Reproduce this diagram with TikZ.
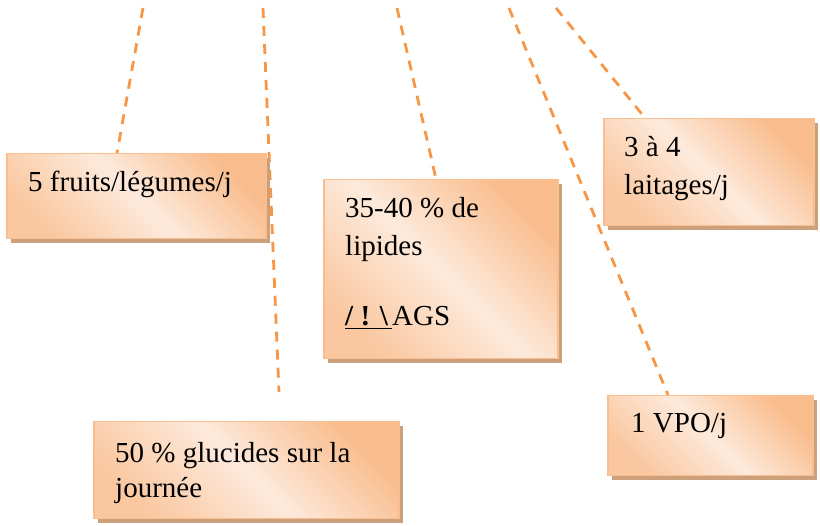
\documentclass[tikz,border=0pt]{standalone}
\usepackage{fontspec}
\setmainfont{Liberation Serif}
\usetikzlibrary{shadows,backgrounds}

\definecolor{boxorange}{HTML}{F9BC8C}
\definecolor{boxlight}{HTML}{FDEADC}
\definecolor{boxedge}{HTML}{F9BE8F}
\definecolor{boxshadow}{HTML}{CDA07C}
\definecolor{linkorange}{HTML}{F79646}

\tikzset{
  notebox/.style={rectangle, draw=boxedge, line width=1.5pt, inner sep=0pt,
    anchor=north west,
    top color=boxorange, bottom color=boxorange!75!boxlight,
    middle color=boxlight, shading angle=-45,
    drop shadow={shadow xshift=4pt, shadow yshift=-4pt,
      fill=boxshadow, opacity=1}},
  notetext/.style={anchor=base west, inner sep=0pt,
    font=\fontsize{29}{35}\selectfont},
  link/.style={linkorange, line width=2.8pt, dash pattern=on 10pt off 8pt}
}

\begin{document}
\begin{tikzpicture}[x=1pt, y=-1pt]
  \useasboundingbox (0,0) rectangle (820,526);

  % boxes
  \node[notebox, minimum width=259pt, minimum height=85pt]  (fruits)   at (6,153)   {};
  \node[notebox, minimum width=234pt, minimum height=179pt] (lipides)  at (323,179) {};
  \node[notebox, minimum width=210pt, minimum height=107pt] (laitages) at (603,118) {};
  \node[notebox, minimum width=305pt, minimum height=97pt]  (glucides) at (93,421)  {};
  \node[notebox, minimum width=205pt, minimum height=80pt]  (vpo)      at (607,395) {};

  % box texts
  \node[notetext] (fruitsA) at ([xshift=22pt, yshift=-39pt]fruits.north west) {5 fruits/légumes/j};

  \node[notetext] (lipidesA) at ([xshift=22pt, yshift=-39pt]lipides.north west) {35-40 \% de};
  \node[notetext] (lipidesB) at ([xshift=22pt, yshift=-77pt]lipides.north west) {lipides};
  \node[notetext] (lipidesC) at ([xshift=22pt, yshift=-147pt]lipides.north west)
    {\underline{\textbf{/ ! \textbackslash}\hspace{4pt}}AGS};

  \node[notetext] (laitagesA) at ([xshift=21pt, yshift=-39pt]laitages.north west) {3 à 4};
  \node[notetext] (laitagesB) at ([xshift=21pt, yshift=-77pt]laitages.north west) {laitages/j};

  \node[notetext] (glucidesA) at ([xshift=22pt, yshift=-42pt]glucides.north west) {50 \% glucides sur la};
  \node[notetext] (glucidesB) at ([xshift=22pt, yshift=-77pt]glucides.north west) {journée};

  \node[notetext] (vpoA) at ([xshift=24pt, yshift=-38pt]vpo.north west) {1 VPO/j};

  % free ends of the connectors
  \coordinate (t1) at (143,8);
  \coordinate (t2) at (263,8);
  \coordinate (t3) at (397,8);
  \coordinate (t4) at (509,8);
  \coordinate (t5) at (556,8);
  \coordinate (e2) at (279,392);

  % dashed connectors behind the boxes
  \begin{scope}[on background layer]
    \draw[link] (t1) -- ([xshift=111pt]fruits.north west);
    \draw[link] (t2) -- (e2);
    \draw[link] (t3) -- ([xshift=113pt]lipides.north west);
    \draw[link] (t4) -- ([xshift=61pt]vpo.north west);
    \draw[link] (t5) -- ([xshift=42pt]laitages.north west);
  \end{scope}
\end{tikzpicture}
\end{document}
